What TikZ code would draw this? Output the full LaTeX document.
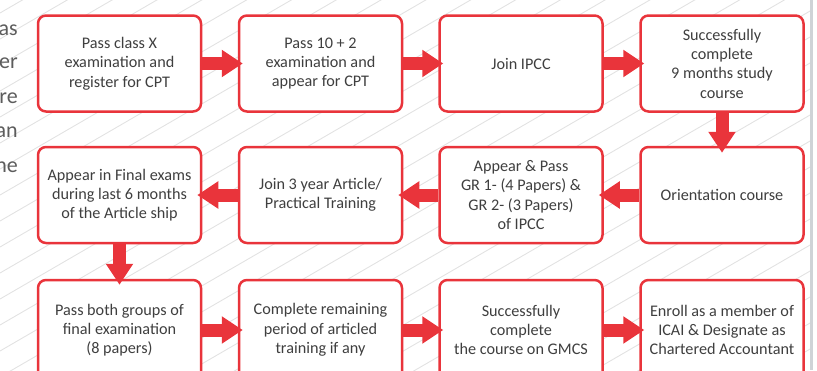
\documentclass[tikz,border=0pt]{standalone}
\usepackage{fontspec}
\setmainfont{Carlito}
\usepackage{tikz}
\usetikzlibrary{arrows.meta}
\definecolor{flowred}{HTML}{E9343B}
\definecolor{flowtext}{HTML}{3F3F3F}
\definecolor{hatchgray}{HTML}{E2E2E2}
\definecolor{edgegray}{HTML}{CFD3D7}

\begin{document}
\begin{tikzpicture}[x=1pt,y=-1pt,
		stepbox/.style={draw=flowred,line width=2.5pt,rounded corners=8pt,fill=white,text=flowtext,
			minimum width=163pt,minimum height=96pt,inner sep=2pt,align=center,
			font=\fontsize{16.2}{19.3}\selectfont},
		flow/.style={flowred,line width=13pt,-{Triangle[width=26pt,length=21pt]}},
		hatch/.style={hatchgray,line width=0.9pt},
		fragment/.style={anchor=base east,inner sep=0pt,text=flowtext!85,font=\fontsize{22}{26}\selectfont}]
			\useasboundingbox (0,0) rectangle (817,370);
			\clip (0,0) rectangle (817,370);
			% background
			\begin{scope}
				\clip (0,0) rectangle (810,370);
				\foreach \c in {13,39,...,870}
					\draw[hatch] (0,\c) -- (817,{\c-474});
			\end{scope}
			\draw[edgegray,line width=2.5pt] (811.5,0) -- (811.5,370);
			% text cut off at the left
			\node[fragment] (frag1) at (18,35) {as};
			\node[fragment] (frag2) at (18,68) {er};
			\node[fragment] (frag3) at (18,103) {re};
			\node[fragment] (frag4) at (18,137) {an};
			\node[fragment] (frag5) at (18,172) {he};
			% first row
			\node[stepbox] (cpt) at (119.5,63.5) {Pass class X\\examination and\\register for CPT};
			\node[stepbox] (plustwo) at (320.5,63.5) {Pass 10 + 2\\examination and\\appear for CPT};
			\node[stepbox] (ipcc) at (521,63.5) {Join IPCC};
			\node[stepbox] (studycourse) at (722,63.5) {Successfully\\complete\\9 months study\\course};
			% second row
			\node[stepbox] (orientation) at (722,195) {Orientation course};
			\node[stepbox] (grpapers) at (521,195) {Appear \& Pass\\GR 1- (4 Papers) \&\\GR 2- (3 Papers)\\of IPCC};
			\node[stepbox] (article) at (320.5,195) {Join 3 year Article/\\Practical Training};
			\node[stepbox] (finalexam) at (119.5,195) {Appear in Final exams\\during last 6 months\\of the Article ship};
			% third row
			\node[stepbox,minimum height=100pt] (finalpass) at (119.5,330) {Pass both groups of\\final examination\\(8 papers)};
			\node[stepbox,minimum height=100pt] (training) at (320.5,330) {Complete remaining\\period of articled\\training if any};
			\node[stepbox,minimum height=100pt] (gmcs) at (521,330) {Successfully\\complete\\the course on GMCS};
			\node[stepbox,minimum height=100pt] (enroll) at (722,330) {Enroll as a member of\\ICAI \& Designate as\\Chartered Accountant};
			% arrows
			\draw[flow] (cpt.east) -- ([xshift=5pt]plustwo.west);
			\draw[flow] (plustwo.east) -- ([xshift=5pt]ipcc.west);
			\draw[flow] (ipcc.east) -- ([xshift=5pt]studycourse.west);
			\draw[flow] (studycourse.south) -- ([yshift=-7pt]orientation.north);
			\draw[flow] (orientation.west) -- ([xshift=-5pt]grpapers.east);
			\draw[flow] (grpapers.west) -- ([xshift=-5pt]article.east);
			\draw[flow] (article.west) -- ([xshift=-5pt]finalexam.east);
			\draw[flow] (finalexam.south) -- ([yshift=-6pt]finalpass.north);
			\draw[flow] (finalpass.east) -- ([xshift=5pt]training.west);
			\draw[flow] (training.east) -- ([xshift=5pt]gmcs.west);
			\draw[flow] (gmcs.east) -- ([xshift=5pt]enroll.west);
		\end{tikzpicture}
\end{document}
